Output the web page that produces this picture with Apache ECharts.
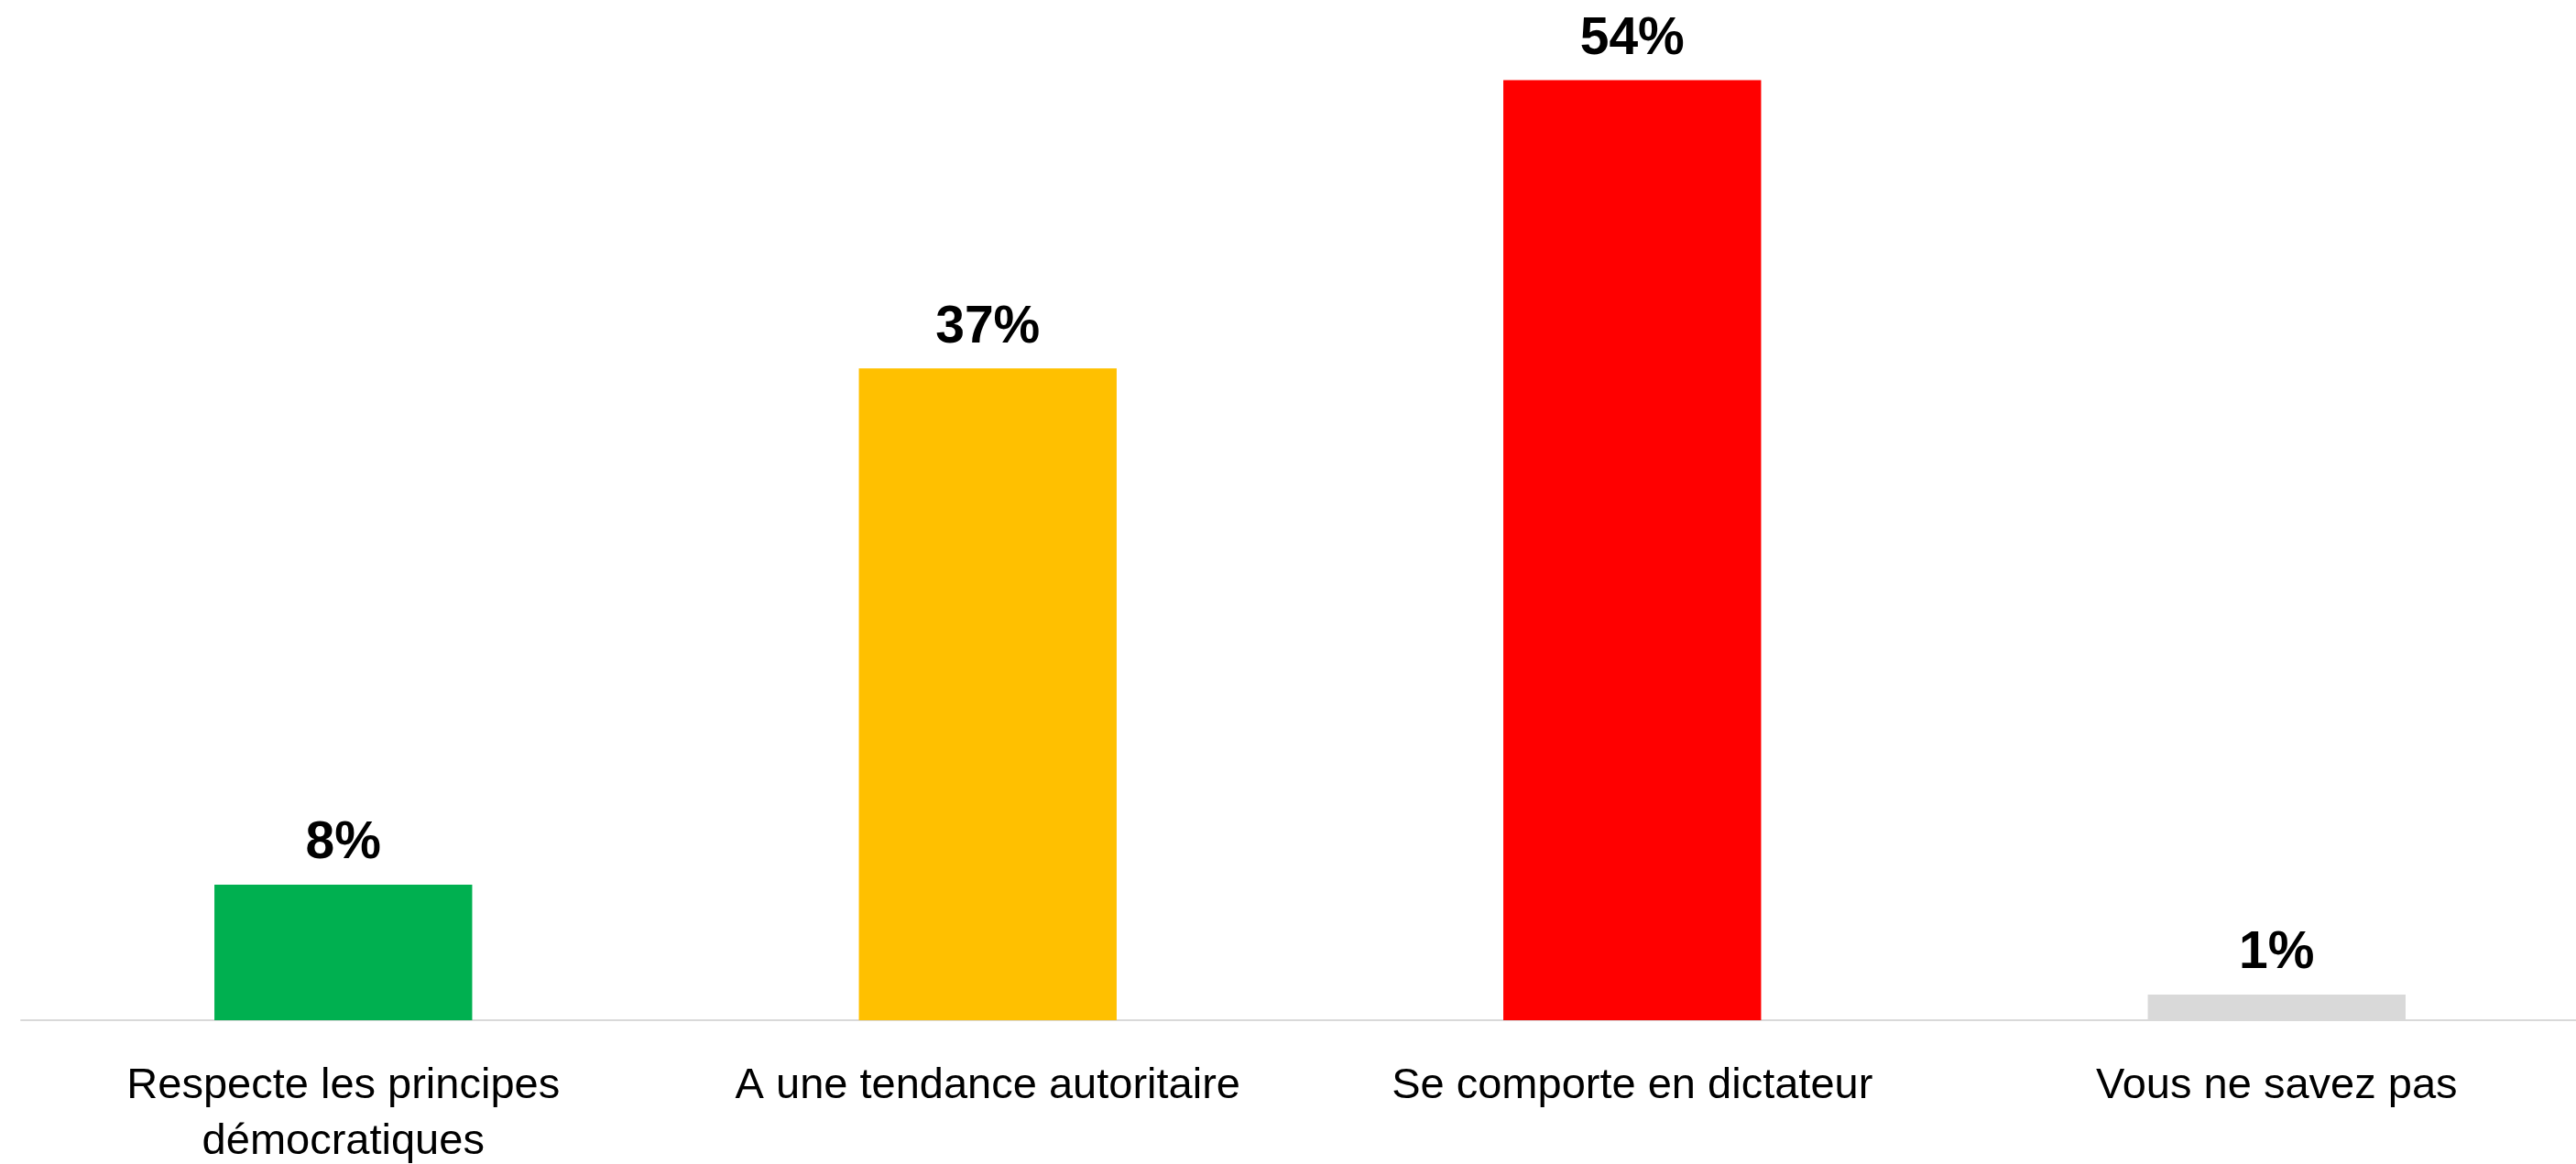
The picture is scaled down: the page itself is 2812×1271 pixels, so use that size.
<!DOCTYPE html>
<html>
<head>
<meta charset="utf-8">
<script src="https://cdn.jsdelivr.net/npm/echarts@6/dist/echarts.min.js"></script>
<style>
  html, body { margin: 0; padding: 0; background: #fff; }
  #container { width: 2812px; height: 1271px; }
</style>
</head>
<body>
<div id="container"></div>
<script>
// categories and values
var categories = ['Respecte les principes\ndémocratiques', 'A une tendance autoritaire', 'Se comporte en dictateur', 'Vous ne savez pas'];
var values = [7.73, 37.18, 53.63, 1.46];
var valueLabels = ['8%', '37%', '54%', '1%'];
var barColors = ['#00B050', '#FFC000', '#FF0000', '#D9D9D9'];

var dom = document.getElementById("container");
var myChart = echarts.init(dom);

var seriesData = [];
for (var i = 0; i < values.length; i++) {
    seriesData.push({
        value: values[i],
        itemStyle: { color: barColors[i] }
    });
}

var option = {
    animation: false,
    grid: {
        left: 23,
        top: 0,
        width: 2814,   // plot runs a little past the right edge, as in the picture
        height: 1114,
        containLabel: false,
        outerBoundsMode: 'none'
    },
    xAxis: {
        type: 'category',
        data: categories,
        axisLine: { show: true, lineStyle: { color: '#D9D9D9', width: 2 } },
        axisTick: { show: false },
        axisLabel: {
            interval: 0,
            margin: 42,
            color: '#000',
            fontFamily: 'Liberation Sans',
            fontSize: 47,
            lineHeight: 61
        }
    },
    yAxis: {
        type: 'value',
        min: 0,
        max: 58.2,
        show: false,
        splitLine: { show: false }
    },
    series: [{
        type: 'bar',
        barWidth: '40%',
        data: seriesData,
        label: {
            show: true,
            position: 'top',
            distance: 16,
            color: '#000',
            fontFamily: 'Liberation Sans',
            fontWeight: 'bold',
            fontSize: 57,
            formatter: function (p) { return valueLabels[p.dataIndex]; }
        }
    }]
};

myChart.setOption(option, true);
</script>
</body>
</html>
